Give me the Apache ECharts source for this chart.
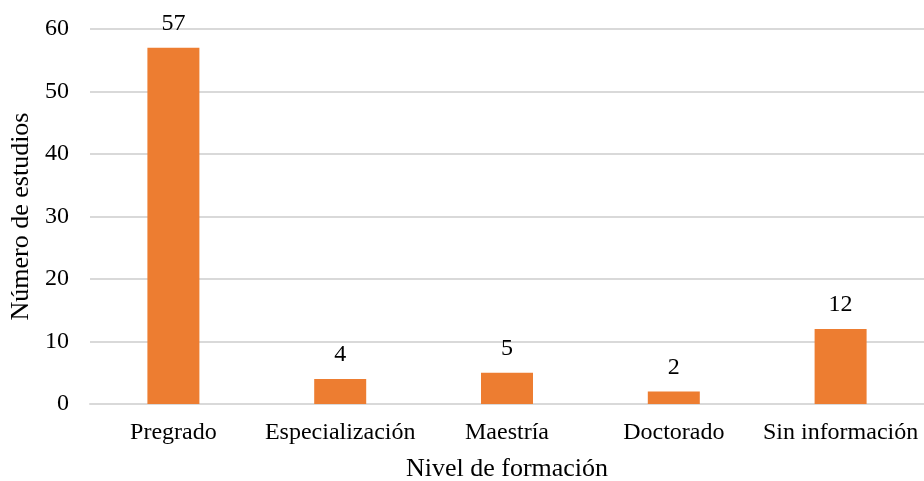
<!DOCTYPE html>
<html><head><meta charset="utf-8">
<script src="https://cdn.jsdelivr.net/npm/echarts@6/dist/echarts.min.js"></script>
<style>html,body{margin:0;padding:0;background:#fff}#c{width:924px;height:481px}</style>
</head><body><div id="c"></div>
<script>
const categories = ["Pregrado","Especialización","Maestría","Doctorado","Sin información"];
const values = [57,4,5,2,12];
const yTicks = [0,10,20,30,40,50,60];
const font = "'Liberation Serif','Times New Roman',serif";
const chart = echarts.init(document.getElementById('c'));
chart.setOption({
  animation:false,
  grid:{left:90,right:0,top:29,bottom:77,containLabel:false,outerBoundsMode:'none'},
  xAxis:{type:'category',data:categories,
    name:'Nivel de formación',nameLocation:'middle',nameGap:52,
    nameTextStyle:{fontFamily:font,fontSize:26,color:'#000'},
    axisLine:{lineStyle:{color:'#d9d9d9',width:2}},axisTick:{show:false},
    axisLabel:{interval:0,fontFamily:font,fontSize:24,color:'#000',margin:17}},
  yAxis:{type:'value',min:yTicks[0],max:yTicks[yTicks.length-1],interval:10,
    name:'Número de estudios',nameLocation:'middle',nameGap:55,
    nameTextStyle:{fontFamily:font,fontSize:26,color:'#000'},
    axisLine:{show:false},axisTick:{show:false},
    axisLabel:{fontFamily:font,fontSize:24,color:'#000',margin:21},
    splitLine:{lineStyle:{color:'#d9d9d9',width:2}}},
  series:[{type:'bar',data:values,barWidth:52,
    itemStyle:{color:'#ED7D31'},
    label:{show:true,position:'top',distance:12,fontFamily:font,fontSize:24,color:'#000'}}]
});
</script></body></html>
